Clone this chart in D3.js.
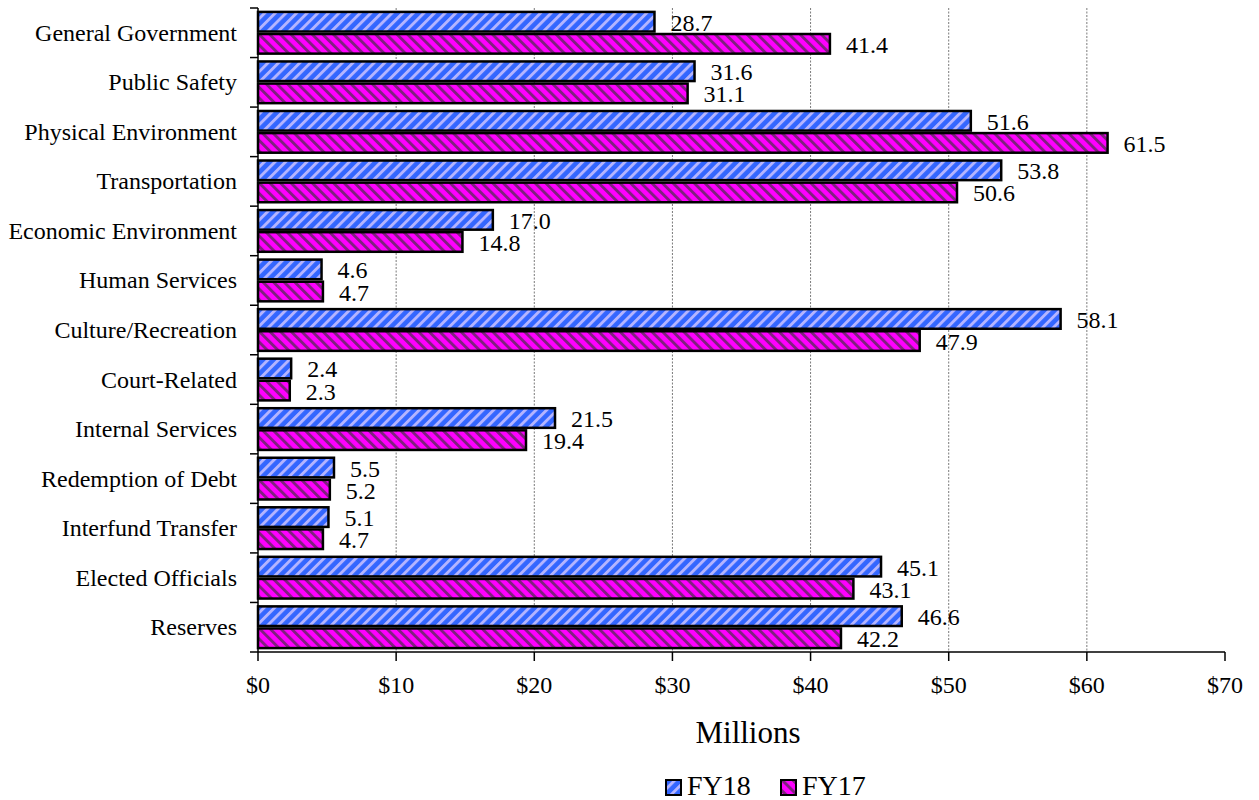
<!DOCTYPE html>
<html>
<head>
<meta charset="utf-8">
<script src="https://cdn.jsdelivr.net/npm/d3@7"></script>
<style>
  html, body { margin: 0; padding: 0; background: #fff; }
  svg { display: block; }
  text { font-family: "Liberation Serif", "Times New Roman", serif; fill: #000; }
</style>
</head>
<body>
<svg id="chart" width="1259" height="800"></svg>
<script>
const categories = ["General Government","Public Safety","Physical Environment","Transportation","Economic Environment","Human Services","Culture/Recreation","Court-Related","Internal Services","Redemption of Debt","Interfund Transfer","Elected Officials","Reserves"];
const fy18 = [28.7, 31.6, 51.6, 53.8, 17.0, 4.6, 58.1, 2.4, 21.5, 5.5, 5.1, 45.1, 46.6];
const fy17 = [41.4, 31.1, 61.5, 50.6, 14.8, 4.7, 47.9, 2.3, 19.4, 5.2, 4.7, 43.1, 42.2];
const seriesNames = ["FY18", "FY17"];
const xTicks = [0, 10, 20, 30, 40, 50, 60, 70];
const axisTitle = "Millions";

(function () {
const svg = d3.select("#chart");
const pLeft = 258, pRight = 1225, pTop = 8, pBottom = 652;

const x = d3.scaleLinear().domain([0, 70]).range([pLeft, pRight]);
const y = d3.scaleBand().domain(categories).range([pTop, pBottom]).paddingInner(0).paddingOuter(0);
const inner = d3.scaleBand().domain(seriesNames).range([0, y.bandwidth()]).paddingInner(0).paddingOuter(0.12);

// patterns
const defs = svg.append("defs");
function makePattern(id, base, stripe, angle) {
  const p = defs.append("pattern").attr("id", id).attr("patternUnits", "userSpaceOnUse")
    .attr("width", 7.5).attr("height", 7.5).attr("patternTransform", `rotate(${angle})`);
  p.append("rect").attr("width", 7.5).attr("height", 7.5).attr("fill", base);
  p.append("rect").attr("x", 0).attr("width", 2.9).attr("height", 7.5).attr("fill", stripe);
}
makePattern("patBlue", "#3366ff", "#b4b4ff", 45);
makePattern("patMag", "#ff00ff", "#80207f", -45);
const fills = { FY18: "url(#patBlue)", FY17: "url(#patMag)" };

// gridlines
svg.append("g").selectAll("line").data(xTicks.filter(d => d > 0 && d < 70)).join("line")
  .attr("x1", d => x(d)).attr("x2", d => x(d)).attr("y1", pTop).attr("y2", pBottom)
  .attr("stroke", "#7a7a7a").attr("stroke-width", 1).attr("stroke-dasharray", "2,1.5");

// bars
const rows = categories.map((c, i) => ({ c, vals: [{ s: "FY18", v: fy18[i] }, { s: "FY17", v: fy17[i] }] }));
const sw = 2.5;
const g = svg.append("g");
rows.forEach(r => {
  r.vals.forEach(d => {
    const y0 = y(r.c) + inner(d.s);
    const h = inner.bandwidth();
    g.append("rect")
      .attr("x", x(0)).attr("y", y0 + sw / 2)
      .attr("width", x(d.v) - x(0)).attr("height", h - sw)
      .attr("fill", fills[d.s]).attr("stroke", "#000").attr("stroke-width", sw);
  });
});

// axes
const yAxis = svg.append("g").attr("transform", `translate(${pLeft},0)`);
yAxis.append("line").attr("x1", 0).attr("x2", 0).attr("y1", pTop).attr("y2", pBottom).attr("stroke", "#000").attr("stroke-width", 1.5);
const bounds = categories.map(c => y(c)).concat([pBottom]);
yAxis.selectAll("line.tick").data(bounds).join("line").attr("class", "tick")
  .attr("x1", -8).attr("x2", 0).attr("y1", d => d).attr("y2", d => d).attr("stroke", "#000").attr("stroke-width", 1.5);
yAxis.selectAll("text").data(categories).join("text")
  .attr("x", -21).attr("y", d => y(d) + y.bandwidth() / 2 + 8)
  .attr("text-anchor", "end").attr("font-size", 24).text(d => d);

const xAxis = svg.append("g").attr("transform", `translate(0,${pBottom})`);
xAxis.append("line").attr("x1", pLeft).attr("x2", pRight).attr("y1", 0).attr("y2", 0).attr("stroke", "#000").attr("stroke-width", 1.5);
xAxis.selectAll("line.tick").data(xTicks).join("line").attr("class", "tick")
  .attr("x1", d => x(d)).attr("x2", d => x(d)).attr("y1", 0).attr("y2", 9).attr("stroke", "#000").attr("stroke-width", 1.5);
xAxis.selectAll("text").data(xTicks).join("text")
  .attr("x", d => x(d)).attr("y", 41).attr("text-anchor", "middle").attr("font-size", 24)
  .text(d => "$" + d);

svg.append("text").attr("x", 748).attr("y", 743).attr("text-anchor", "middle").attr("font-size", 31).text(axisTitle);

// value labels
const lg = svg.append("g");
rows.forEach(r => {
  r.vals.forEach(d => {
    const cy = y(r.c) + inner(d.s) + inner.bandwidth() / 2;
    lg.append("text").attr("x", x(d.v) + 16).attr("y", cy + 9)
      .attr("font-size", 24).text(d.v.toFixed(1));
  });
});

// legend
const legend = svg.append("g");
const legendItems = [{ s: "FY18", bx: 666, tx: 687 }, { s: "FY17", bx: 781, tx: 802 }];
legendItems.forEach(it => {
  legend.append("rect").attr("x", it.bx).attr("y", 780).attr("width", 15).attr("height", 15)
    .attr("fill", fills[it.s]).attr("stroke", "#000").attr("stroke-width", 2);
  legend.append("text").attr("x", it.tx).attr("y", 795).attr("font-size", 28).text(it.s);
});
})();
</script>
</body>
</html>
